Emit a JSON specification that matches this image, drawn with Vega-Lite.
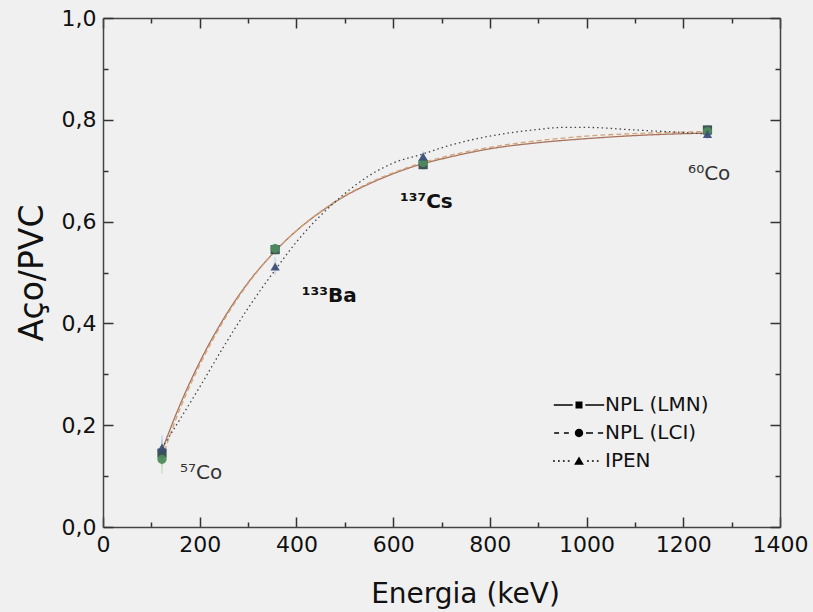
{
  "$schema": "https://vega.github.io/schema/vega-lite/v6.json",
  "width": 677,
  "height": 509,
  "autosize": {"type": "none"},
  "padding": {"left": 103, "top": 18, "right": 33, "bottom": 85},
  "background": "#f0f0f0",
  "config": {
    "view": {"stroke": null},
    "font": "DejaVu Sans",
    "axis": {
      "labelFont": "DejaVu Sans", "labelFontSize": 22, "labelColor": "#111",
      "titleFont": "DejaVu Sans", "titleFontSize": 28, "titleFontWeight": "normal", "titleColor": "#111",
      "domainColor": "#444", "domainWidth": 1.5, "tickColor": "#333", "tickWidth": 1.5, "ticks": true, "grid": false
    },
    "legend": {
      "labelFont": "DejaVu Sans", "labelFontSize": 20, "labelColor": "#111"
    }
  },
  "datasets": {
    "pts": [
      {"energy": 122, "value": 0.145, "lo": 0.12, "hi": 0.17, "series": "NPL (LMN)"},
      {"energy": 356, "value": 0.545, "lo": 0.535, "hi": 0.555, "series": "NPL (LMN)"},
      {"energy": 662, "value": 0.712, "lo": 0.702, "hi": 0.722, "series": "NPL (LMN)"},
      {"energy": 1250, "value": 0.780, "lo": 0.770, "hi": 0.790, "series": "NPL (LMN)"},
      {"energy": 122, "value": 0.133, "lo": 0.105, "hi": 0.16, "series": "NPL (LCI)"},
      {"energy": 356, "value": 0.547, "lo": 0.537, "hi": 0.557, "series": "NPL (LCI)"},
      {"energy": 662, "value": 0.716, "lo": 0.706, "hi": 0.726, "series": "NPL (LCI)"},
      {"energy": 1250, "value": 0.777, "lo": 0.767, "hi": 0.787, "series": "NPL (LCI)"},
      {"energy": 122, "value": 0.156, "lo": 0.14, "hi": 0.18, "series": "IPEN"},
      {"energy": 356, "value": 0.512, "lo": 0.495, "hi": 0.53, "series": "IPEN"},
      {"energy": 662, "value": 0.728, "lo": 0.718, "hi": 0.738, "series": "IPEN"},
      {"energy": 1250, "value": 0.772, "lo": 0.762, "hi": 0.782, "series": "IPEN"}
    ],
    "fit": [
      {"energy": 122, "value": 0.150, "series": "NPL (LMN)"},
      {"energy": 150, "value": 0.219, "series": "NPL (LMN)"},
      {"energy": 200, "value": 0.324, "series": "NPL (LMN)"},
      {"energy": 250, "value": 0.410, "series": "NPL (LMN)"},
      {"energy": 300, "value": 0.480, "series": "NPL (LMN)"},
      {"energy": 356, "value": 0.542, "series": "NPL (LMN)"},
      {"energy": 400, "value": 0.582, "series": "NPL (LMN)"},
      {"energy": 450, "value": 0.619, "series": "NPL (LMN)"},
      {"energy": 500, "value": 0.650, "series": "NPL (LMN)"},
      {"energy": 550, "value": 0.674, "series": "NPL (LMN)"},
      {"energy": 600, "value": 0.694, "series": "NPL (LMN)"},
      {"energy": 662, "value": 0.714, "series": "NPL (LMN)"},
      {"energy": 700, "value": 0.723, "series": "NPL (LMN)"},
      {"energy": 800, "value": 0.743, "series": "NPL (LMN)"},
      {"energy": 900, "value": 0.755, "series": "NPL (LMN)"},
      {"energy": 1000, "value": 0.763, "series": "NPL (LMN)"},
      {"energy": 1100, "value": 0.769, "series": "NPL (LMN)"},
      {"energy": 1250, "value": 0.774, "series": "NPL (LMN)"},
      {"energy": 122, "value": 0.135, "series": "NPL (LCI)"},
      {"energy": 150, "value": 0.210, "series": "NPL (LCI)"},
      {"energy": 200, "value": 0.318, "series": "NPL (LCI)"},
      {"energy": 250, "value": 0.406, "series": "NPL (LCI)"},
      {"energy": 300, "value": 0.478, "series": "NPL (LCI)"},
      {"energy": 356, "value": 0.542, "series": "NPL (LCI)"},
      {"energy": 400, "value": 0.582, "series": "NPL (LCI)"},
      {"energy": 450, "value": 0.620, "series": "NPL (LCI)"},
      {"energy": 500, "value": 0.651, "series": "NPL (LCI)"},
      {"energy": 550, "value": 0.676, "series": "NPL (LCI)"},
      {"energy": 600, "value": 0.696, "series": "NPL (LCI)"},
      {"energy": 662, "value": 0.716, "series": "NPL (LCI)"},
      {"energy": 700, "value": 0.726, "series": "NPL (LCI)"},
      {"energy": 800, "value": 0.746, "series": "NPL (LCI)"},
      {"energy": 900, "value": 0.759, "series": "NPL (LCI)"},
      {"energy": 1000, "value": 0.768, "series": "NPL (LCI)"},
      {"energy": 1100, "value": 0.773, "series": "NPL (LCI)"},
      {"energy": 1250, "value": 0.777, "series": "NPL (LCI)"},
      {"energy": 122, "value": 0.155, "series": "IPEN"},
      {"energy": 200, "value": 0.275, "series": "IPEN"},
      {"energy": 250, "value": 0.355, "series": "IPEN"},
      {"energy": 300, "value": 0.430, "series": "IPEN"},
      {"energy": 356, "value": 0.505, "series": "IPEN"},
      {"energy": 400, "value": 0.560, "series": "IPEN"},
      {"energy": 450, "value": 0.612, "series": "IPEN"},
      {"energy": 500, "value": 0.655, "series": "IPEN"},
      {"energy": 550, "value": 0.690, "series": "IPEN"},
      {"energy": 600, "value": 0.715, "series": "IPEN"},
      {"energy": 662, "value": 0.733, "series": "IPEN"},
      {"energy": 700, "value": 0.745, "series": "IPEN"},
      {"energy": 800, "value": 0.768, "series": "IPEN"},
      {"energy": 900, "value": 0.781, "series": "IPEN"},
      {"energy": 950, "value": 0.785, "series": "IPEN"},
      {"energy": 1000, "value": 0.785, "series": "IPEN"},
      {"energy": 1100, "value": 0.780, "series": "IPEN"},
      {"energy": 1200, "value": 0.775, "series": "IPEN"},
      {"energy": 1250, "value": 0.772, "series": "IPEN"}
    ],
    "labels": [
      {"energy": 159, "value": 0.106, "text": "⁵⁷Co", "bold": false},
      {"energy": 411, "value": 0.454, "text": "¹³³Ba", "bold": true},
      {"energy": 614, "value": 0.639, "text": "¹³⁷Cs", "bold": true},
      {"energy": 1210, "value": 0.694, "text": "⁶⁰Co", "bold": false}
    ]
  },
  "layer": [
    {
      "data": {"name": "fit"},
      "mark": {"type": "line", "interpolate": "monotone", "strokeWidth": 1.3},
      "encoding": {
        "x": {
          "field": "energy", "type": "quantitative",
          "scale": {"domain": [0, 1400], "nice": false, "zero": false},
          "axis": {
            "orient": "bottom",
            "values": [0, 100, 200, 300, 400, 500, 600, 700, 800, 900, 1000, 1100, 1200, 1300, 1400],
            "format": "d",
            "labelExpr": "datum.value % 200 === 0 ? datum.label : ''",
            "tickSize": {"expr": "datum.value % 200 === 0 ? -10 : -5"},
            "labelPadding": 17, "labelFlush": false, "labelOverlap": false,
            "title": "Energia (keV)", "titlePadding": 20, "titleX": 362
          }
        },
        "y": {
          "field": "value", "type": "quantitative",
          "scale": {"domain": [0, 1], "nice": false, "zero": false},
          "axis": {
            "orient": "left",
            "values": [0, 0.1, 0.2, 0.3, 0.4, 0.5, 0.6, 0.7, 0.8, 0.9, 1.0],
            "labelExpr": "round(datum.value * 10) % 2 === 0 ? replace(format(datum.value, '.1f'), '.', ',') : ''",
            "tickSize": {"expr": "round(datum.value * 10) % 2 === 0 ? -10 : -5"},
            "labelPadding": 17, "labelFlush": false, "labelOverlap": false,
            "title": "Aço/PVC", "titlePadding": 12, "titleFontSize": 33
          }
        },
        "detail": {"field": "series"},
        "color": {
          "field": "series", "type": "nominal",
          "scale": {"domain": ["NPL (LMN)", "NPL (LCI)", "IPEN"], "range": ["#a8725c", "#d2a47a", "#444444"]},
          "legend": null
        },
        "strokeDash": {
          "field": "series", "type": "nominal",
          "scale": {"domain": ["NPL (LMN)", "NPL (LCI)", "IPEN"], "range": [[1, 0], [5, 3], [1.5, 3]]},
          "legend": null
        }
      }
    },
    {
      "data": {"name": "pts"},
      "mark": {"type": "rule", "strokeWidth": 2, "opacity": 0.55},
      "encoding": {
        "x": {
          "field": "energy", "type": "quantitative",
          "axis": {
            "orient": "top",
            "values": [0, 100, 200, 300, 400, 500, 600, 700, 800, 900, 1000, 1100, 1200, 1300, 1400],
            "tickSize": {"expr": "datum.value % 200 === 0 ? -10 : -5"},
            "labels": false, "title": null
          }
        },
        "y": {
          "field": "lo", "type": "quantitative",
          "axis": {
            "orient": "right",
            "values": [0, 0.1, 0.2, 0.3, 0.4, 0.5, 0.6, 0.7, 0.8, 0.9, 1.0],
            "tickSize": {"expr": "round(datum.value * 10) % 2 === 0 ? -10 : -5"},
            "labels": false, "title": null
          }
        },
        "y2": {"field": "hi"},
        "color": {
          "field": "series", "type": "nominal",
          "scale": {"domain": ["NPL (LMN)", "NPL (LCI)", "IPEN"], "range": ["#9cc4a8", "#b6dcb0", "#b4c8e6"]},
          "legend": null
        }
      }
    },
    {
      "data": {"name": "pts"},
      "mark": {"type": "point", "filled": true, "size": 85, "opacity": 0.95},
      "encoding": {
        "x": {"field": "energy", "type": "quantitative", "axis": null},
        "y": {"field": "value", "type": "quantitative", "axis": null},
        "shape": {
          "field": "series", "type": "nominal",
          "scale": {"domain": ["NPL (LMN)", "NPL (LCI)", "IPEN"], "range": ["square", "circle", "triangle-up"]},
          "legend": null
        },
        "color": {
          "field": "series", "type": "nominal",
          "scale": {"domain": ["NPL (LMN)", "NPL (LCI)", "IPEN"], "range": ["#34494f", "#4f8a5c", "#3b4f78"]},
          "legend": null
        }
      }
    },
    {
      "data": {"name": "pts"},
      "transform": [{"filter": "datum.value < 0"}],
      "mark": {"type": "point", "filled": true, "color": "black", "opacity": 1},
      "encoding": {
        "x": {"field": "energy", "type": "quantitative", "axis": null},
        "y": {"field": "value", "type": "quantitative", "axis": null},
        "shape": {
          "field": "series", "type": "nominal",
          "scale": {
            "domain": ["NPL (LMN)", "NPL (LCI)", "IPEN"],
            "range": [
              "M-7.2,-0.2H-1.8V0.2H-7.2ZM1.8,-0.2H7.2V0.2H1.8ZM-1,-1H1V1H-1Z",
              "M-7.1,-0.2H-5.7V0.2H-7.1ZM-4.3,-0.2H-2.9V0.2H-4.3ZM2,-0.2H4V0.2H2ZM5.4,-0.2H6.9V0.2H5.4ZM-1.2,0A1.2,1.2,0,1,1,1.2,0A1.2,1.2,0,1,1,-1.2,0Z",
              "M-7.4,-0.2H-6.9V0.2H-7.4ZM-6,-0.2H-5.5V0.2H-6ZM-4.6,-0.2H-4.1V0.2H-4.6ZM-3.2,-0.2H-2.7V0.2H-3.2ZM2.3,-0.2H2.8V0.2H2.3ZM3.7,-0.2H4.2V0.2H3.7ZM5.1,-0.2H5.6V0.2H5.1ZM0,-1.3L1.4,1.1H-1.4Z"
            ]
          },
          "legend": {
            "title": null, "orient": "none", "legendX": 466, "legendY": 377,
            "padding": 0, "symbolSize": 49, "symbolFillColor": "black",
            "symbolStrokeWidth": 0, "symbolOpacity": 1, "labelOffset": 16, "rowPadding": 8,
            "labelFontSize": 20, "labelColor": "#111"
          }
        }
      }
    },
    {
      "data": {"name": "labels"},
      "transform": [{"filter": "datum.bold"}],
      "mark": {"type": "text", "align": "left", "baseline": "middle", "fontSize": 20, "fontWeight": "bold", "color": "#111"},
      "encoding": {
        "x": {"field": "energy", "type": "quantitative", "axis": null},
        "y": {"field": "value", "type": "quantitative", "axis": null},
        "text": {"field": "text"}
      }
    },
    {
      "data": {"name": "labels"},
      "transform": [{"filter": "!datum.bold"}],
      "mark": {"type": "text", "align": "left", "baseline": "middle", "fontSize": 20, "color": "#333"},
      "encoding": {
        "x": {"field": "energy", "type": "quantitative", "axis": null},
        "y": {"field": "value", "type": "quantitative", "axis": null},
        "text": {"field": "text"}
      }
    }
  ],
  "resolve": {
    "scale": {"color": "independent", "shape": "independent", "strokeDash": "independent"},
    "legend": {"shape": "independent"}
  }
}
